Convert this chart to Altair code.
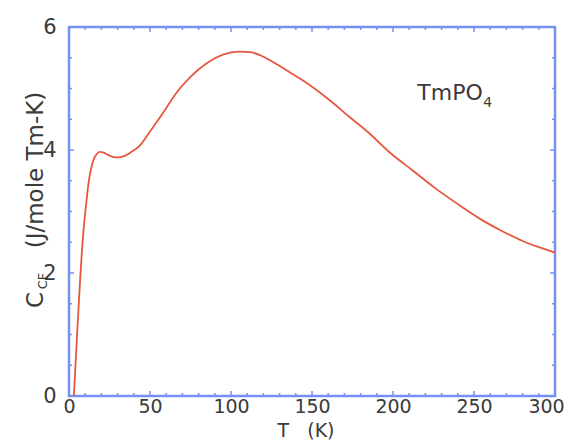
import altair as alt
import pandas as pd

# Curve: crystal-field heat capacity of TmPO4
T = [3, 5, 7, 9, 10.5, 12, 13.5, 15, 17, 19, 21, 24, 27, 30, 34, 38, 44, 50, 58, 66,
     75, 85, 95, 105, 112, 118, 126, 134, 142, 150, 160, 173, 185, 198, 212, 225, 240,
     255, 266, 280, 290, 300]
C = [0.0, 1.0, 1.95, 2.7, 3.1, 3.45, 3.68, 3.83, 3.93, 3.97, 3.96, 3.92, 3.89, 3.88,
     3.9, 3.96, 4.08, 4.30, 4.60, 4.92, 5.19, 5.41, 5.55, 5.60, 5.59, 5.54, 5.43, 5.30,
     5.17, 5.03, 4.83, 4.54, 4.28, 3.96, 3.67, 3.40, 3.12, 2.86, 2.70, 2.52, 2.42, 2.33]

x_labels = [0, 50, 100, 150, 200, 250, 300]
y_labels = [0, 2, 4, 6]
x_minor = [v for v in range(0, 301, 10) if v % 50 != 0]
x_major = x_labels
y_minor = [0.5, 1, 1.5, 2.5, 3, 3.5, 4.5, 5, 5.5]
y_major = y_labels

x_title = ["T\u00a0\u00a0\u00a0(K)"]
y_title = ["(J/mole Tm-K)"]
y_sym = ["C"]
y_sub = ["CF"]
ann = ["TmPO"]
ann_sub = ["4"]
ann_T = [215]
ann_C = [4.81]

W, H = 486, 369
FRAME = "#7590f2"
LINE = "#e8553f"
TXT = "#3a3a3a"
FONT = "DejaVu Sans"

xs = alt.Scale(domain=[0, 300], nice=False, zero=False)
ys = alt.Scale(domain=[0, 6], nice=False, zero=False)
xax = alt.Axis(values=x_labels, title=None, domain=False, ticks=False, grid=False,
               labelFontSize=19, labelFont=FONT, labelColor=TXT, labelPadding=1,
               labelFlush=False,
               labelOffset={"condition": {"test": "datum.value == 300", "value": -9}, "value": 0})
yax = alt.Axis(values=y_labels, title=None, domain=False, ticks=False, grid=False,
               labelFontSize=21, labelFont=FONT, labelColor=TXT, labelPadding=13,
               labelFlush=False)

df = pd.DataFrame({"T": T, "C": C})

line = alt.Chart(df).mark_line(color=LINE, strokeWidth=1.8, interpolate="monotone").encode(
    x=alt.X("T:Q", scale=xs, axis=xax),
    y=alt.Y("C:Q", scale=ys, axis=yax),
)


def ticks(vals, orient, length):
    d = pd.DataFrame({"v": vals})
    m = alt.Chart(d).mark_rule(color=FRAME, strokeWidth=1.5)
    if orient == "bottom":
        return m.encode(x=alt.X("v:Q", scale=xs, axis=xax), y=alt.value(H), y2=alt.value(H - length))
    if orient == "top":
        return m.encode(x=alt.X("v:Q", scale=xs, axis=xax), y=alt.value(0), y2=alt.value(length))
    if orient == "left":
        return m.encode(y=alt.Y("v:Q", scale=ys, axis=yax), x=alt.value(0), x2=alt.value(length))
    return m.encode(y=alt.Y("v:Q", scale=ys, axis=yax), x=alt.value(W), x2=alt.value(W - length))


tick_layers = []
for o in ["bottom", "top"]:
    tick_layers.append(ticks(x_minor, o, 3))
    tick_layers.append(ticks(x_major, o, 5))
for o in ["left", "right"]:
    tick_layers.append(ticks(y_minor, o, 3))
    tick_layers.append(ticks(y_major, o, 5))

xt = alt.Chart(pd.DataFrame({"t": x_title})).mark_text(
    fontSize=19, font=FONT, color=TXT, align="center", baseline="alphabetic"
).encode(text="t:N", x=alt.value(237), y=alt.value(410))

yt = alt.Chart(pd.DataFrame({"t": y_title})).mark_text(
    fontSize=23, font=FONT, color=TXT, align="center", baseline="alphabetic", angle=270
).encode(text="t:N", x=alt.value(-26), y=alt.value(143))

ysym = alt.Chart(pd.DataFrame({"t": y_sym})).mark_text(
    fontSize=23, font=FONT, color=TXT, align="center", baseline="alphabetic", angle=270
).encode(text="t:N", x=alt.value(-26), y=alt.value(273))

ysub = alt.Chart(pd.DataFrame({"t": y_sub})).mark_text(
    fontSize=13, font=FONT, color=TXT, align="center", baseline="alphabetic", angle=270
).encode(text="t:N", x=alt.value(-22), y=alt.value(254))

adf = pd.DataFrame({"t": ann, "s": ann_sub, "T": ann_T, "C": ann_C})
a1 = alt.Chart(adf).mark_text(
    fontSize=22, font=FONT, color=TXT, align="left", baseline="alphabetic"
).encode(text="t:N", x=alt.X("T:Q", scale=xs, axis=xax), y=alt.Y("C:Q", scale=ys, axis=yax))
a2 = alt.Chart(adf).mark_text(
    fontSize=14, font=FONT, color=TXT, align="left", baseline="alphabetic", dx=66, dy=7
).encode(text="s:N", x=alt.X("T:Q", scale=xs, axis=xax), y=alt.Y("C:Q", scale=ys, axis=yax))

chart = alt.layer(line, *tick_layers, xt, yt, ysym, ysub, a1, a2).properties(
    width=W, height=H,
    autosize=alt.AutoSizeParams(type="none"),
    padding={"left": 61, "top": 19, "right": 9, "bottom": 44},
).configure_view(stroke=FRAME, strokeWidth=2.5)

chart.save("out.html", embed_options={"renderer": "svg", "actions": False})
